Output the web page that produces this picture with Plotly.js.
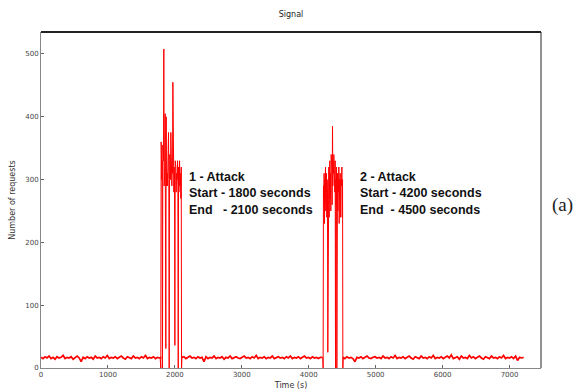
<!DOCTYPE html>
<html>
<head>
<meta charset="utf-8">
<script src="https://cdn.plot.ly/plotly-3.0.1.min.js"></script>
<style>html,body{margin:0;padding:0;background:#fff;}#chart{width:582px;height:392px;}</style>
</head>
<body>
<div id="chart"></div>
<script>
// Signal segments: start time (s), sampling step (s), requests per sample
var base1Start = 0, base1Step = 30;
var base1 = [17,15,18,16,19,15,17,14,18,16,17,20,15,17,16,18,14,17,19,16,10,17,15,18,16,17,14,19,16,17,15,18,16,20,15,17,16,18,15,17,19,16,14,18,17,15,19,16,17,15,18,16,20,15,17,16,18,15,17,16,17];

var attack1Start = 1780, attack1Step = 5;
var attack1 = [17,350,0,360,340,300,330,0,355,300,330,508,290,380,320,405,300,31,400,290,395,310,290,360,330,375,300,0,300,340,320,300,375,310,330,290,320,310,455,300,330,280,320,300,36,330,290,320,280,310,300,300,330,290,0,320,280,300,330,290,310,300,270,320,0,17];

var base2Start = 2105, base2Step = 30;
var base2 = [17,18,15,17,19,16,17,15,18,16,17,10,18,15,17,16,19,15,17,16,18,14,17,16,19,15,17,18,16,15,17,19,16,17,15,18,16,20,15,17,16,18,15,17,16,19,15,17,18,16,17,15,18,16,19,15,17,16,18,15,17,19,16,17,15,18,16,17,15,17,17];

var attack2Start = 4210, attack2Step = 5;
var attack2 = [17,0,290,270,310,230,300,260,320,250,290,310,240,300,280,25,300,260,320,240,300,330,270,310,250,340,300,320,260,385,290,330,310,340,300,320,280,330,0,300,260,320,0,290,310,250,300,280,320,230,300,270,310,240,300,260,290,320,240,300,0,17];

var base3Start = 4510, base3Step = 30;
var base3 = [17,15,18,16,17,15,10,17,16,18,15,17,19,16,15,17,18,16,17,15,19,16,17,15,18,16,20,15,17,16,18,15,17,19,16,14,18,17,15,19,16,17,15,18,16,20,15,17,16,18,15,17,19,16,21,15,17,18,14,19,16,17,15,20,16,18,15,17,19,16,14,18,17,15,19,16,17,15,18,16,20,15,17,16,18,15,19,12,17,16,17];

var xTicks = [0,1000,2000,3000,4000,5000,6000,7000];
var xTickText = ['0','1000','2000','3000','4000','5000','6000','7000'];
var yTicks = [0,100,200,300,400,500];
var yTickText = ['0','100','200','300','400','500'];

function seg(start, step, vals, width){
  var xs = [], ys = [];
  vals.forEach(function(v, i){ xs.push(start + step*i); ys.push(v); });
  return {x: xs, y: ys, type: 'scatter', mode: 'lines',
          line: {color: '#ff0000', width: width}, hoverinfo: 'skip'};
}
var traces = [
  seg(base1Start, base1Step, base1, 1.7),
  seg(base2Start, base2Step, base2, 1.7),
  seg(base3Start, base3Step, base3, 1.7),
  seg(attack1Start, attack1Step, attack1, 1),
  seg(attack2Start, attack2Step, attack2, 1)
];

var tickFont = {family: 'DejaVu Sans, sans-serif', size: 7, color: '#444'};
var layout = {
  width: 582, height: 392,
  margin: {l: 41, r: 41, t: 32, b: 24},
  paper_bgcolor: '#fff', plot_bgcolor: '#fff',
  showlegend: false,
  title: {text: 'Signal', x: 0.5, xanchor: 'center', y: 0.964, yanchor: 'middle',
          font: {family: 'DejaVu Sans, sans-serif', size: 8, color: '#222'}},
  xaxis: {
    range: [0, 7470], tickvals: xTicks, ticktext: xTickText,
    ticks: 'inside', ticklen: 3, tickcolor: '#666', tickfont: tickFont,
    showgrid: false, zeroline: false, showline: true, linecolor: '#888', linewidth: 1,
    title: {text: 'Time (s)', standoff: 3, font: {family: 'DejaVu Sans, sans-serif', size: 8, color: '#333'}}
  },
  yaxis: {
    range: [0, 535], tickvals: yTicks, ticktext: yTickText,
    ticks: 'inside', ticklen: 3, tickcolor: '#666', tickfont: tickFont,
    showgrid: false, zeroline: false, showline: true, linecolor: '#888', linewidth: 1,
    title: {text: 'Number of requests', standoff: 8, font: {family: 'DejaVu Sans, sans-serif', size: 8, color: '#333'}}
  },
  shapes: [
    {type: 'line', xref: 'paper', yref: 'paper', x0: 0, x1: 1, y0: 1, y1: 1, line: {color: '#222', width: 2}},
    {type: 'line', xref: 'paper', yref: 'paper', x0: 1, x1: 1, y0: 0, y1: 1, line: {color: '#222', width: 1}}
  ],
  annotations: [
    {xref: 'paper', yref: 'paper', x: 0.292, y: 0.596, xanchor: 'left', yanchor: 'top', align: 'left', showarrow: false,
     text: '<b>1 - Attack<br>Start - 1800 seconds<br>End   - 2100 seconds</b>',
     font: {family: 'Liberation Sans, Arial, sans-serif', size: 12.5, color: '#111'}},
    {xref: 'paper', yref: 'paper', x: 0.634, y: 0.596, xanchor: 'left', yanchor: 'top', align: 'left', showarrow: false,
     text: '<b>2 - Attack<br>Start - 4200 seconds<br>End  - 4500 seconds</b>',
     font: {family: 'Liberation Sans, Arial, sans-serif', size: 12.5, color: '#111'}},
    {xref: 'paper', yref: 'paper', x: 1.018, y: 0.485, xanchor: 'left', yanchor: 'middle', showarrow: false,
     text: '(a)', font: {family: 'Liberation Serif, DejaVu Serif, serif', size: 19, color: '#222'}}
  ]
};

Plotly.newPlot('chart', traces, layout, {staticPlot: true, displayModeBar: false});
</script>
</body>
</html>
